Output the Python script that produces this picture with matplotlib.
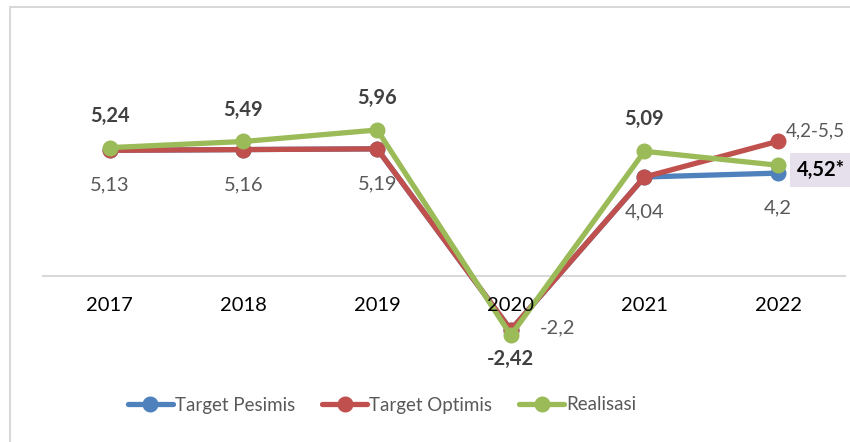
import matplotlib.pyplot as plt
from matplotlib.patches import Rectangle

years = ['2017', '2018', '2019', '2020', '2021', '2022']
pesimis = [5.13, 5.16, 5.19, -2.2, 4.04, 4.2]
optimis = [5.13, 5.16, 5.19, -2.2, 4.04, 5.5]
realisasi = [5.24, 5.49, 5.96, -2.42, 5.09, 4.52]

target_labels = ['5,13', '5,16', '5,19', '-2,2', '4,04', '4,2']
real_labels = ['5,24', '5,49', '5,96', '-2,42', '5,09', '4,52*']

blue = '#4f81bd'
red = '#c0504d'
green = '#9bbb59'

plt.rcParams['font.family'] = ['Lato', 'DejaVu Sans']

fig = plt.figure(figsize=(8.5, 4.42), dpi=100)
W, H = 850, 442

# outer chart border
fig.patches.append(Rectangle((9.5 / W, -0.1), 1.2, 1 + 0.1 - 7.5 / H,
                             transform=fig.transFigure, fill=False,
                             edgecolor='#d9d9d9', lw=1.5))

ax = fig.add_axes([43 / W, 1 - 374 / H, 802 / W, 294 / H])
ax.set_xlim(-0.5, 5.5)
ax.set_ylim(-4, 8)
x = list(range(len(years)))

kw = dict(lw=3.8, marker='o', ms=10.5, solid_capstyle='round')
ax.plot(x, pesimis, color=blue, label='Target Pesimis', zorder=2, **kw)
ax.plot(x, optimis, color=red, label='Target Optimis', zorder=2.1, **kw)
ax.plot(x, realisasi, color=green, label='Realisasi', zorder=2.2, **kw)

for s in ['top', 'left', 'right']:
    ax.spines[s].set_visible(False)
ax.spines['bottom'].set_position(('data', 0))
ax.spines['bottom'].set_color('#d9d9d9')
ax.spines['bottom'].set_linewidth(1.5)
ax.spines['bottom'].set_zorder(1)
ax.set_axisbelow(False)
ax.set_yticks([])
ax.set_xticks(x)
ax.set_xticklabels(years, fontsize=14.5, color='black')
ax.tick_params(axis='x', length=0, pad=15)
ax.xaxis.set_zorder(3)

fs = 14.5
# realisasi labels (bold, above)
for i in [0, 1, 2, 4]:
    ax.annotate(real_labels[i], (x[i], realisasi[i]), xytext=(0, 32),
                textcoords='offset pixels', ha='center', va='center',
                fontsize=fs, fontweight='bold', color='#404040', zorder=4)
ax.annotate(real_labels[3], (x[3], realisasi[3]), xytext=(0, -24),
            textcoords='offset pixels', ha='center', va='center',
            fontsize=fs, fontweight='bold', color='#404040', zorder=4)
ax.annotate(real_labels[5], (x[5], realisasi[5]), xytext=(19, -5),
            textcoords='offset pixels', ha='left', va='center',
            fontsize=fs, fontweight='bold', color='black', zorder=4,
            bbox=dict(boxstyle='square,pad=0.35', fc='#e5e0ec', ec='none'))

# target labels (regular, below)
for i in [0, 1, 2, 4, 5]:
    ax.annotate(target_labels[i], (x[i], pesimis[i]), xytext=(0, -35),
                textcoords='offset pixels', ha='center', va='center',
                fontsize=fs, color='#595959', zorder=4)
ax.annotate(target_labels[3], (x[3], pesimis[3]), xytext=(47, 2),
            textcoords='offset pixels', ha='center', va='center',
            fontsize=fs, color='#595959', zorder=4)
# range label, kept inside the figure edge
ax.annotate('4,2-5,5', (x[5], optimis[5]), xytext=(67, 10),
            textcoords='offset pixels', ha='right', va='center',
            fontsize=13.5, color='#595959', zorder=4)

fig.legend(loc='center', bbox_to_anchor=(382 / W, 1 - 405 / H), ncol=3,
           frameon=False, fontsize=13.5, labelcolor='#595959',
           handlelength=2.4, handletextpad=0.1, columnspacing=1.45)

plt.savefig('out.png', dpi=100)
